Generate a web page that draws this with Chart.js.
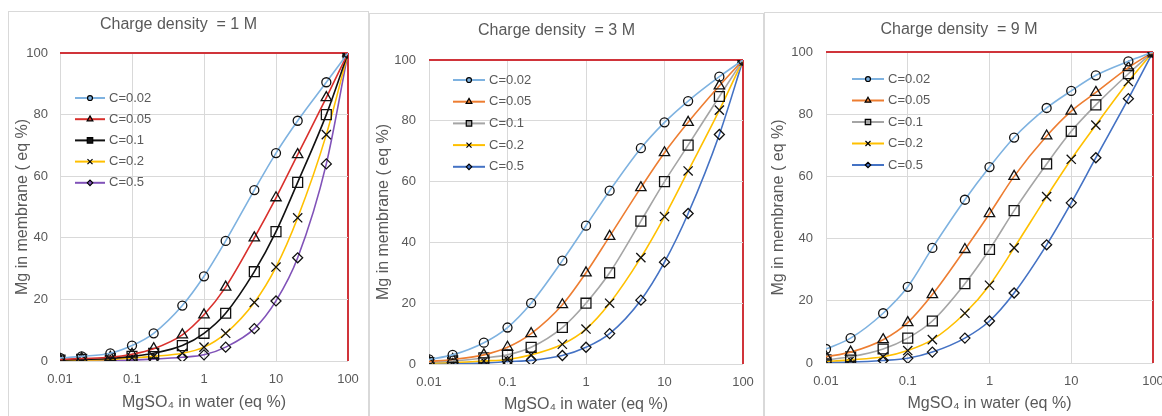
<!DOCTYPE html>
<html>
<head>
<meta charset="utf-8">
<script src="https://cdn.jsdelivr.net/npm/chart.js@4.4.1/dist/chart.umd.min.js"></script>
<style>
  html, body { margin: 0; padding: 0; background: #ffffff; }
  body { width: 1162px; height: 416px; position: relative; overflow: hidden; }
  .panel { position: absolute; border: 1px solid #d9d9d9; border-bottom: none; box-sizing: border-box; }
  .panel canvas { position: absolute; left: 0; top: 0; }
</style>
</head>
<body>
<div class="panel" style="left:8px;top:11px;width:361px;height:406px;"><div style="position:absolute;left:0;top:0;width:358px;height:404px;"><canvas id="c1"></canvas></div></div>
<div class="panel" style="left:369px;top:13px;width:395px;height:404px;"><div style="position:absolute;left:0;top:0;width:392px;height:402px;"><canvas id="c2"></canvas></div></div>
<div class="panel" style="left:764px;top:12px;width:399px;height:405px;"><div style="position:absolute;left:0;top:0;width:397px;height:403px;"><canvas id="c3"></canvas></div></div>
<script>
// ---------- DATA ----------
const xValues = [0.01, 0.02, 0.05, 0.1, 0.2, 0.5, 1, 2, 5, 10, 20, 50, 100];
const xTickValues = [0.01, 0.1, 1, 10, 100];
const xTickLabels = ['0.01', '0.1', '1', '10', '100'];
const seriesNames = ['C=0.02', 'C=0.05', 'C=0.1', 'C=0.2', 'C=0.5'];
const panelTitles = ['Charge density  = 1 M', 'Charge density  = 3 M', 'Charge density  = 9 M'];
const xAxisTitle = 'MgSO\u2084 in water (eq %)';
const yAxisTitle = 'Mg in membrane ( eq %)';

// Charge density = 1 M
const cd1_c002 = [1, 1.5, 2.5, 5, 9, 18, 27.5, 39, 55.5, 67.5, 78, 90.5, 100];
const cd1_c005 = [0.5, 0.8, 1.2, 2.2, 4, 8.5, 15, 24, 40, 53, 67, 85.5, 100];
const cd1_c01  = [0.3, 0.5, 0.8, 1.5, 2.5, 5, 9, 15.5, 29, 42, 58, 80, 100];
const cd1_c02  = [0.2, 0.3, 0.5, 1, 1.5, 2.5, 4.5, 9, 19, 30.5, 46.5, 73.5, 100];
const cd1_c05  = [0.1, 0.1, 0.2, 0.3, 0.6, 1.2, 2, 4.5, 10.5, 19.5, 33.5, 64, 100];

// Charge density = 3 M
const cd3_c002 = [1.5, 3, 7, 12, 20, 34, 45.5, 57, 71, 79.5, 86.5, 94.5, 100];
const cd3_c005 = [0.8, 1.5, 3, 5.5, 10, 19.5, 30, 42, 58, 69.5, 79.5, 91.5, 100];
const cd3_c01  = [0.5, 1, 2, 3, 5.5, 12, 20, 30, 47, 60, 72, 88, 100];
const cd3_c02  = [0.3, 0.5, 1, 1.5, 3, 6.5, 11.5, 20, 35, 48.5, 63.5, 83.5, 100];
const cd3_c05  = [0.1, 0.2, 0.3, 0.8, 1.2, 2.8, 5.5, 10, 21, 33.5, 49.5, 75.5, 100];

// Charge density = 9 M
const cd9_c002 = [4.5, 8, 16, 24.5, 37, 52.5, 63, 72.5, 82, 87.5, 92.5, 97, 100];
const cd9_c005 = [2, 3.5, 7.5, 13, 22, 36.5, 48, 60, 73, 81, 87, 95, 100];
const cd9_c01  = [1, 2, 4.5, 8, 13.5, 25.5, 36.5, 49, 64, 74.5, 83, 93, 100];
const cd9_c02  = [0.5, 1, 2, 4, 7.5, 16, 25, 37, 53.5, 65.5, 76.5, 90.5, 100];
const cd9_c05  = [0.2, 0.3, 0.8, 1.5, 3.5, 8, 13.5, 22.5, 38, 51.5, 66, 85, 100];

// ---------- STYLES ----------
const TEXT = '#595959';
const GRID = '#d9d9d9';
const FRAME_RED = '#d0343a';
const FONT = '"Liberation Sans", Arial, sans-serif';
const markerStyles = ['circle', 'triangle', 'rect', 'crossRot', 'rectRot'];
const markerRadius = [4.5, 6, 7, 6.5, 5];
const colors1M = ['#7eb2e0', '#d9302c', '#111111', '#ffc000', '#8052b8'];
const colorsStd = ['#7eb2e0', '#ed7d31', '#a5a5a5', '#ffc000', '#4472c4'];

const insideLegend = {
  id: 'insideLegend',
  afterDatasetsDraw(chart, args, opts) {
    const ctx = chart.ctx;
    chart.data.datasets.forEach((ds, i) => {
      const y = opts.y0 + i * opts.step;
      ctx.save();
      ctx.strokeStyle = ds.borderColor;
      ctx.lineWidth = 2;
      ctx.beginPath();
      ctx.moveTo(opts.x0, y);
      ctx.lineTo(opts.x0 + opts.len, y);
      ctx.stroke();
      ctx.fillStyle = ds.borderColor;
      ctx.strokeStyle = '#000000';
      ctx.lineWidth = 1.2;
      Chart.helpers.drawPoint(ctx, { pointStyle: ds.pointStyle, radius: ds.pointRadius * 0.55, borderWidth: 1.2, rotation: 0 }, opts.x0 + opts.len / 2, y);
      ctx.fillStyle = TEXT;
      ctx.font = '13px ' + FONT;
      ctx.textBaseline = 'middle';
      ctx.textAlign = 'left';
      ctx.fillText(seriesNames[i], opts.x0 + opts.len + 4, y);
      ctx.restore();
    });
  }
};

function makeDatasets(seriesList, colors) {
  return seriesList.map((vals, i) => ({
    label: seriesNames[i],
    data: xValues.map((x, j) => ({ x: x, y: vals[j] })),
    borderColor: colors[i],
    backgroundColor: colors[i],
    borderWidth: 1.6,
    pointStyle: markerStyles[i],
    pointRadius: markerRadius[i],
    pointHoverRadius: markerRadius[i],
    pointBorderColor: '#111111',
    pointBackgroundColor: 'rgba(255,255,255,0)',
    pointBorderWidth: 1.3,
    cubicInterpolationMode: 'monotone',
    fill: false
  }));
}

function makeChart(id, title, seriesList, colors, L) {
  return new Chart(document.getElementById(id), {
    type: 'line',
    data: { datasets: makeDatasets(seriesList, colors) },
    plugins: [insideLegend],
    options: {
      responsive: true,
      maintainAspectRatio: false,
      animation: false,
      layout: { padding: { left: 0, right: L.right, top: 0, bottom: 0 } },
      plugins: {
        legend: { display: false },
        tooltip: { enabled: false },
        title: {
          display: true, text: title, color: TEXT,
          font: { family: FONT, size: 16, weight: 'normal', lineHeight: 1.2 },
          padding: { top: L.titleTop, bottom: L.titleBottom }
        },
        insideLegend: L.legend
      },
      scales: {
        x: {
          type: 'logarithmic', min: 0.01, max: 100,
          afterBuildTicks: (s) => { s.ticks = xTickValues.map(v => ({ value: v })); },
          afterFit: (s) => { s.height = L.xh; s.paddingLeft = 0; s.paddingRight = 0; },
          ticks: {
            color: TEXT, font: { family: FONT, size: 13 }, padding: L.xtp,
            maxRotation: 0, autoSkip: false,
            callback: (v) => { const k = xTickValues.indexOf(v); return k >= 0 ? xTickLabels[k] : ''; }
          },
          grid: {
            drawTicks: false,
            color: (c) => (c.tick && c.tick.value === 100) ? FRAME_RED : GRID,
            lineWidth: (c) => (c.tick && c.tick.value === 100) ? 2 : 1
          },
          border: { display: false },
          title: { display: true, text: xAxisTitle, color: TEXT, font: { family: FONT, size: 16 }, padding: { top: 2, bottom: L.xTitlePad } }
        },
        y: {
          min: 0, max: 100,
          afterFit: (s) => { s.width = L.yw; s.paddingTop = 0; s.paddingBottom = 0; },
          ticks: { stepSize: 20, color: TEXT, font: { family: FONT, size: 13 }, padding: L.ytp },
          grid: {
            drawTicks: false,
            color: (c) => (c.tick && c.tick.value === 100) ? FRAME_RED : GRID,
            lineWidth: (c) => (c.tick && c.tick.value === 100) ? 2 : 1
          },
          border: { display: false },
          title: { display: true, text: yAxisTitle, color: TEXT, font: { family: FONT, size: 16 }, padding: { top: 3.5, bottom: 2 } }
        }
      }
    }
  });
}

makeChart('c1', panelTitles[0], [cd1_c002, cd1_c005, cd1_c01, cd1_c02, cd1_c05], colors1M, {
  right: 19, titleTop: 3.4, titleBottom: 18.4, xh: 55, xtp: 11, xTitlePad: 3.4, yw: 51, ytp: 12,
  legend: { x0: 66, len: 30, y0: 86, step: 21.2 }
});
makeChart('c2', panelTitles[1], [cd3_c002, cd3_c005, cd3_c01, cd3_c02, cd3_c05], colorsStd, {
  right: 19, titleTop: 7.4, titleBottom: 19.4, xh: 52, xtp: 11, xTitlePad: 1.4, yw: 59, ytp: 13,
  legend: { x0: 83, len: 32, y0: 66, step: 21.7 }
});
makeChart('c3', panelTitles[2], [cd9_c002, cd9_c005, cd9_c01, cd9_c02, cd9_c05], colorsStd, {
  right: 9, titleTop: 7.4, titleBottom: 12.4, xh: 53, xtp: 11, xTitlePad: 2.4, yw: 61, ytp: 13,
  legend: { x0: 87, len: 32, y0: 66, step: 21.5 }
});
</script>
</body>
</html>
